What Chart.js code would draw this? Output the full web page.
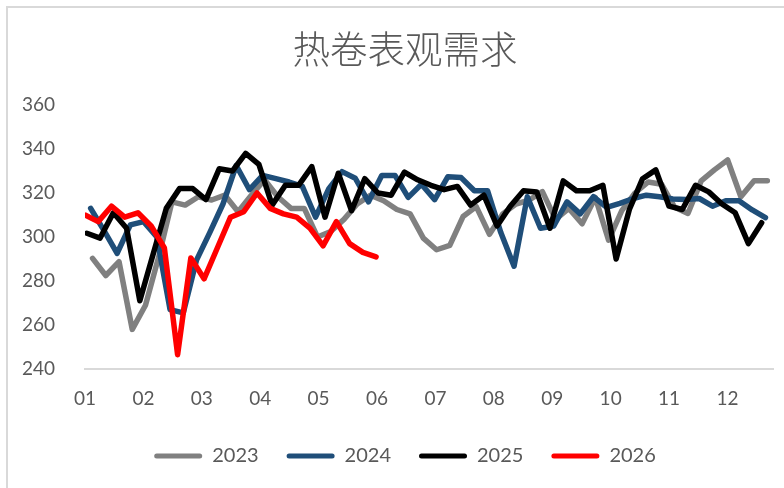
<!DOCTYPE html>
<html>
<head>
<meta charset="utf-8">
<title>热卷表观需求</title>
<script src="https://cdn.jsdelivr.net/npm/chart.js@4"></script>
<style>
  html, body { margin: 0; padding: 0; background: #fff; overflow: hidden; }
  #frame { position: absolute; left: 6px; top: 6px; width: 900px; height: 600px;
           border-left: 2px solid #d9d9d9; border-top: 2px solid #d9d9d9; }
  #wrap { position: absolute; left: 0; top: 0; width: 810px; height: 488px; }
</style>
</head>
<body>
<div id="frame"></div>
<div id="wrap"><canvas id="chart"></canvas></div>
<script>
// weekly apparent demand of hot-rolled coil (10k t), one list per year
const years = ["2023", "2024", "2025", "2026"];
const firstWeek = ["2023-01-05", "2024-01-04", "2025-01-02", "2026-01-01"];
const monthLabels = ["01", "02", "03", "04", "05", "06", "07", "08", "09", "10", "11", "12"];
const yTicks = [240, 260, 280, 300, 320, 340, 360];

const v2023 = [290.3, 282.5, 288.8, 258, 269, 291, 316, 314.5, 318.3, 316.8, 319, 311.5, 319, 326,
  318.3, 313, 313, 300, 302.5, 308, 315, 319, 316.5, 312.5, 310.5, 299.5, 294.2, 296.2, 309.3, 313.8,
  301.2, 310.5, 315, 316.8, 320.6, 308, 313, 306, 318, 298.6, 312, 320, 325, 324, 313.5, 310.7,
  325.5, 330.5, 335, 318.3, 325.6, 325.6];
const v2024 = [313, 303, 292.6, 305.5, 307, 300, 267, 265.5, 289.5, 302, 315, 332.5, 321.5, 328,
  326.5, 325, 323, 309, 322, 329.7, 326.7, 316, 328, 328, 318, 324, 317, 327.4, 327, 321, 321, 302,
  286.7, 318.3, 304, 305, 316, 310.5, 318.3, 313.5, 315.3, 317.5, 319, 318.3, 317.3, 317, 317.5, 314,
  316.5, 316.5, 312.3, 308.8];
const v2025 = [301.7, 299.5, 311, 304, 271, 292, 313, 322, 322, 317, 331, 330, 338, 333, 314.5,
  323.5, 323.5, 332, 309, 329, 312, 326.5, 320, 319, 329.5, 326, 323.5, 321.5, 323, 314.5, 319, 305,
  314, 321, 320.5, 304, 325.5, 321, 321, 323.5, 290, 312.5, 326.5, 330.5, 314, 312.5, 323.5, 320.5,
  315, 311, 297, 306.5];
const v2026 = [310, 307, 314, 309, 311, 305, 295, 246.5, 290.5, 281, 295, 309, 311.5, 320, 313,
  310.5, 309, 304, 296, 307, 297, 293, 291];

const values = [v2023, v2024, v2025, v2026];
const colors = ["#808080", "#1f4e79", "#000000", "#ff0000"];

// x = day of the year, so every year lines up on the same Jan..Dec axis
function dayOfYear(s) {
  const d = new Date(s + "T00:00:00Z");
  const start = Date.UTC(d.getUTCFullYear(), 0, 1);
  return Math.round((d - start) / 86400000);
}

const datasets = years.map((y, k) => {
  const d0 = dayOfYear(firstWeek[k]);
  return {
    label: y,
    data: values[k].map((v, i) => ({ x: d0 + 7 * i, y: v })),
    borderColor: colors[k],
    backgroundColor: colors[k],
    borderWidth: 5.5,
    borderJoinStyle: "round",
    borderCapStyle: "round",
    pointRadius: 0,
    tension: 0,
    order: years.length - 1 - k // later years drawn on top
  };
});

Chart.defaults.font.family = 'Lato, "Noto Sans", sans-serif';
Chart.defaults.color = "#595959";

new Chart(document.getElementById("chart"), {
  type: "line",
  data: { datasets },
  options: {
    responsive: true,
    maintainAspectRatio: false,
    animation: false,
    events: [],
    layout: { padding: { left: 0, right: 0, top: 0, bottom: 12 } },
    plugins: {
      title: {
        display: true,
        text: "热卷表观需求",
        color: "#595959",
        font: { family: '"Noto Sans CJK SC"', size: 37.5, weight: 300 },
        padding: { top: 26, bottom: 34 }
      },
      legend: {
        position: "bottom",
        labels: {
          boxWidth: 48,
          boxHeight: 5,
          padding: 28,
          useBorderRadius: true,
          borderRadius: 2.5,
          color: "#595959",
          font: { size: 20 },
          generateLabels: (chart) => chart.data.datasets.map((ds, i) => ({
            text: ds.label,
            fillStyle: ds.borderColor,
            strokeStyle: ds.borderColor,
            lineWidth: 0,
            borderRadius: 2.5,
            fontColor: "#595959",
            hidden: false,
            datasetIndex: i
          }))
        }
      },
      tooltip: { enabled: false }
    },
    scales: {
      x: {
        type: "linear",
        min: 0,
        max: 364,
        afterBuildTicks: (axis) => {
          axis.ticks = monthLabels.map((_, m) => ({ value: m * 30.9 }));
        },
        afterFit: (scale) => {
          scale.height = 488 - 12 - scale.chart.legend.height - 369;
        },
        ticks: {
          autoSkip: false,
          maxRotation: 0,
          padding: 10,
          font: { size: 19 },
          callback: (v, i) => monthLabels[i]
        },
        grid: { display: false },
        border: { display: true, color: "#d9d9d9", width: 2 }
      },
      y: {
        min: yTicks[0],
        max: yTicks[yTicks.length - 1],
        afterBuildTicks: (axis) => {
          axis.ticks = yTicks.map((v) => ({ value: v }));
        },
        afterFit: (scale) => { scale.width = 85; },
        ticks: { padding: 22, font: { size: 19 } },
        grid: { display: false },
        border: { display: false }
      },
      // empty right-hand strip, keeps the plot short of the canvas edge
      // while title and legend stay centred on the full width
      pad: {
        type: "linear",
        position: "right",
        afterFit: (scale) => { scale.width = 37; },
        ticks: { display: false },
        grid: { display: false },
        border: { display: false }
      }
    }
  }
});
</script>
</body>
</html>
